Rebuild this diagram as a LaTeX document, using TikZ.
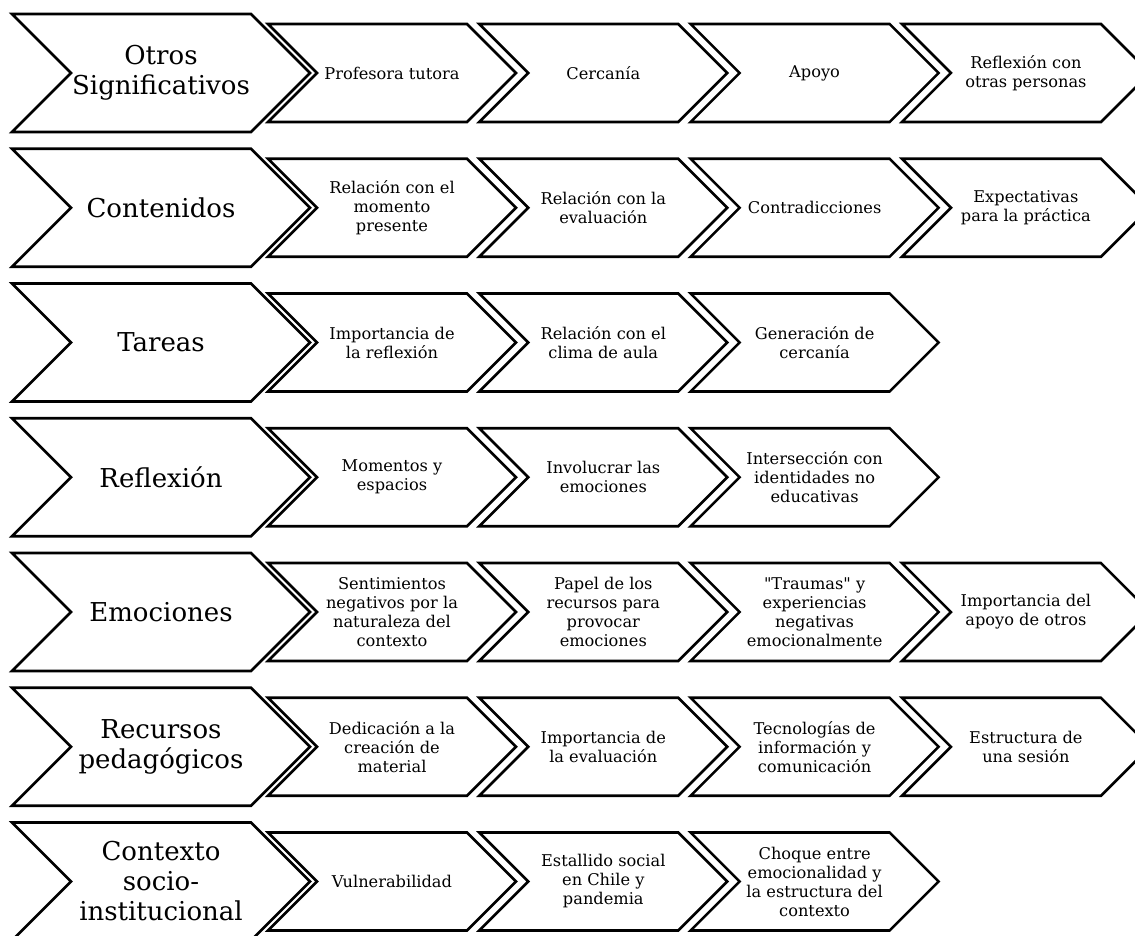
\documentclass[tikz,border=0pt]{standalone}
\usepackage{fontspec}
\setmainfont{DejaVu Serif}[Ligatures=TeXOff]
\newcommand\mychev[7]{%
  \pgfmathsetmacro\hh{#5/2}%
  \draw[chev] (#2,#3) -- ++({#4-\hh},0) -- ++(\hh,\hh) -- ++(-\hh,\hh) -- ++({-(#4-\hh)},0) -- ++(\hh,-\hh) -- cycle;
  \node[#6] (#1) at ({#2+#4/2},{#3+\hh}) {#7};%
}
\begin{document}
\begin{tikzpicture}[x=1pt,y=-1pt,
  chev/.style={draw=black, line width=2.6pt, fill=white, line join=miter},
  bigtxt/.style={align=center, font=\fontsize{26}{30}\selectfont, inner sep=0pt},
  smalltxt/.style={align=center, font=\fontsize{16.2}{19}\selectfont, inner sep=0pt}]
\useasboundingbox (0,0) rectangle (1135,936);
\clip (0,0) rectangle (1135,936);
% Row 1
\mychev{b1}{12}{14}{298}{118}{bigtxt}{Otros\\Significativos}
\mychev{s1a}{268}{24}{248}{98}{smalltxt}{Profesora tutora}
\mychev{s1b}{479.3}{24}{248}{98}{smalltxt}{Cercanía}
\mychev{s1c}{690.6}{24}{248}{98}{smalltxt}{Apoyo}
\mychev{s1d}{901.9}{24}{248}{98}{smalltxt}{Reflexión con\\otras personas}
% Row 2
\mychev{b2}{12}{148.75}{298}{118}{bigtxt}{Contenidos}
\mychev{s2a}{268}{158.75}{248}{98}{smalltxt}{Relación con el\\momento\\presente}
\mychev{s2b}{479.3}{158.75}{248}{98}{smalltxt}{Relación con la\\evaluación}
\mychev{s2c}{690.6}{158.75}{248}{98}{smalltxt}{Contradicciones}
\mychev{s2d}{901.9}{158.75}{248}{98}{smalltxt}{Expectativas\\para la práctica}
% Row 3
\mychev{b3}{12}{283.5}{298}{118}{bigtxt}{Tareas}
\mychev{s3a}{268}{293.5}{248}{98}{smalltxt}{Importancia de\\la reflexión}
\mychev{s3b}{479.3}{293.5}{248}{98}{smalltxt}{Relación con el\\clima de aula}
\mychev{s3c}{690.6}{293.5}{248}{98}{smalltxt}{Generación de\\cercanía}
% Row 4
\mychev{b4}{12}{418.25}{298}{118}{bigtxt}{Reflexión}
\mychev{s4a}{268}{428.25}{248}{98}{smalltxt}{Momentos y\\espacios}
\mychev{s4b}{479.3}{428.25}{248}{98}{smalltxt}{Involucrar las\\emociones}
\mychev{s4c}{690.6}{428.25}{248}{98}{smalltxt}{Intersección con\\identidades no\\educativas}
% Row 5
\mychev{b5}{12}{553}{298}{118}{bigtxt}{Emociones}
\mychev{s5a}{268}{563}{248}{98}{smalltxt}{Sentimientos\\negativos por la\\naturaleza del\\contexto}
\mychev{s5b}{479.3}{563}{248}{98}{smalltxt}{Papel de los\\recursos para\\provocar\\emociones}
\mychev{s5c}{690.6}{563}{248}{98}{smalltxt}{"Traumas" y\\experiencias\\negativas\\emocionalmente}
\mychev{s5d}{901.9}{563}{248}{98}{smalltxt}{Importancia del\\apoyo de otros}
% Row 6
\mychev{b6}{12}{687.75}{298}{118}{bigtxt}{Recursos\\pedagógicos}
\mychev{s6a}{268}{697.75}{248}{98}{smalltxt}{Dedicación a la\\creación de\\material}
\mychev{s6b}{479.3}{697.75}{248}{98}{smalltxt}{Importancia de\\la evaluación}
\mychev{s6c}{690.6}{697.75}{248}{98}{smalltxt}{Tecnologías de\\información y\\comunicación}
\mychev{s6d}{901.9}{697.75}{248}{98}{smalltxt}{Estructura de\\una sesión}
% Row 7
\mychev{b7}{12}{822.5}{298}{118}{bigtxt}{Contexto\\socio-\\institucional}
\mychev{s7a}{268}{832.5}{248}{98}{smalltxt}{Vulnerabilidad}
\mychev{s7b}{479.3}{832.5}{248}{98}{smalltxt}{Estallido social\\en Chile y\\pandemia}
\mychev{s7c}{690.6}{832.5}{248}{98}{smalltxt}{Choque entre\\emocionalidad y\\la estructura del\\contexto}
\end{tikzpicture}
\end{document}
